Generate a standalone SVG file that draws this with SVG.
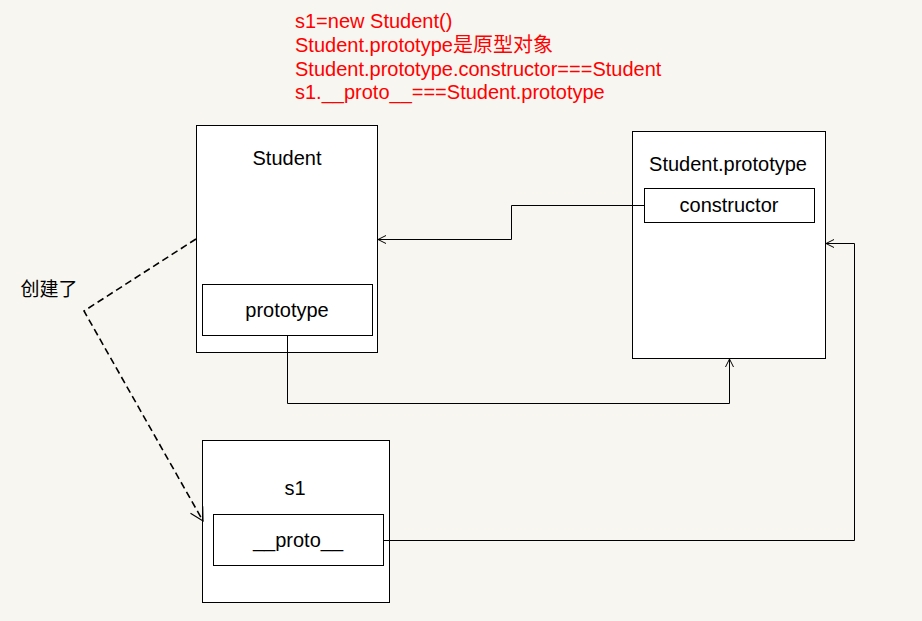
<svg xmlns="http://www.w3.org/2000/svg" width="922" height="621" viewBox="0 0 922 621">
<style>
.box{fill:#fff;stroke:#000;stroke-width:1}
.t{font-family:"Liberation Sans",Arial,sans-serif;font-size:20px;fill:#000;text-anchor:middle}
.r{font-family:"Liberation Sans",Arial,"Noto Sans CJK SC",sans-serif;font-size:20px;fill:#ff0000}
.c{fill:none;stroke:#000;stroke-width:1}
.d{fill:none;stroke:#000;stroke-width:1.6;stroke-dasharray:7,4}
</style>
<defs>
<marker id="a" markerWidth="10" markerHeight="10" refX="9" refY="5" orient="auto" markerUnits="userSpaceOnUse">
<path d="M1,1 L9,5 L1,9" fill="none" stroke="#000" stroke-width="1"/>
</marker>
<marker id="b" markerWidth="16" markerHeight="16" refX="14" refY="8" orient="auto" markerUnits="userSpaceOnUse">
<path d="M1,1 L14,8 L1,15" fill="none" stroke="#000" stroke-width="1.2"/>
</marker>
</defs>
<rect width="922" height="621" fill="#f8f6f0"/>
<g id="note">
<text class="r" x="295" y="28">s1=new Student()</text>
<text class="r" x="295" y="52">Student.prototype是原型对象</text>
<text class="r" x="295" y="76">Student.prototype.constructor===Student</text>
<text class="r" x="295" y="99">s1.__proto__===Student.prototype</text>
</g>
<g id="student">
<rect class="box" x="196.5" y="125.5" width="181" height="227"/>
<text class="t" x="287" y="165">Student</text>
<rect class="box" x="202.5" y="284.5" width="170" height="51"/>
<text class="t" x="287" y="317">prototype</text>
</g>
<g id="studentPrototype">
<rect class="box" x="632.5" y="131.5" width="193" height="227"/>
<text class="t" x="728" y="171">Student.prototype</text>
<rect class="box" x="644.5" y="188.5" width="170" height="34"/>
<text class="t" x="729" y="212">constructor</text>
</g>
<g id="s1">
<rect class="box" x="202.5" y="440.5" width="187" height="162"/>
<text class="t" x="295" y="495">s1</text>
<rect class="box" x="213.5" y="514.5" width="170" height="51"/>
<text class="t" x="298" y="547">__proto__</text>
</g>
<text x="49" y="296" style="font-family:'Noto Sans CJK SC',sans-serif;font-size:19px;fill:#000;text-anchor:middle">创建了</text>
<g id="connectors">
<polyline class="c" points="644,205.5 511.5,205.5 511.5,239.5 378,239.5" marker-end="url(#a)"/>
<polyline class="c" points="287.5,336 287.5,403.5 729.5,403.5 729.5,359" marker-end="url(#a)"/>
<polyline class="c" points="384,540.5 854.5,540.5 854.5,243.5 826,243.5" marker-end="url(#a)"/>
<polyline class="d" points="196,239 84,311 203,521" marker-end="url(#b)"/>
</g>
</svg>
